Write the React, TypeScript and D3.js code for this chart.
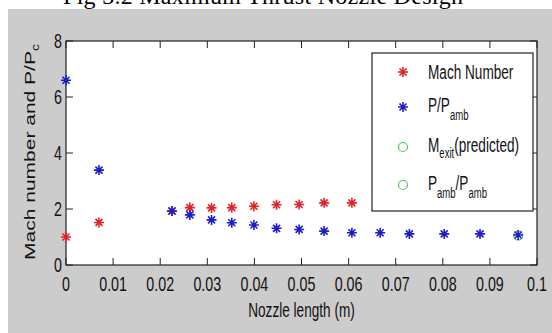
import { useEffect, useRef } from "react";
import * as d3 from "d3";

// values
const machX = [0, 0.007, 0.0225, 0.0263, 0.0309, 0.0352, 0.0399, 0.0447, 0.0495, 0.0548, 0.0607];
const machValues = [1.0, 1.52, 1.93, 2.05, 2.04, 2.05, 2.1, 2.15, 2.16, 2.22, 2.22];
const pressX = [0, 0.007, 0.0225, 0.0263, 0.0309, 0.0352, 0.0399, 0.0447, 0.0495, 0.0548, 0.0607, 0.0667, 0.0729, 0.0803, 0.0879, 0.096];
const pressValues = [6.6, 3.39, 1.93, 1.79, 1.61, 1.51, 1.43, 1.31, 1.27, 1.21, 1.15, 1.15, 1.11, 1.11, 1.11, 1.07];
const ambX = [0.096];
const ambValues = [1.05];
const xTicks = [0, 0.01, 0.02, 0.03, 0.04, 0.05, 0.06, 0.07, 0.08, 0.09, 0.1];
const yTicks = [0, 2, 4, 6, 8];

const RED = "#e3232b";
const BLUE = "#1c1cc8";
const GREEN = "#5cc25c";
const FONT = "Arial, 'Liberation Sans', sans-serif";
const SQ = 0.68; // the picture is horizontally squeezed

const starPath = (s: number) => {
  const d = s * 0.7;
  return `M${-s},0L${s},0M0,${-s}L0,${s}M${-d},${-d}L${d},${d}M${-d},${d}L${d},${-d}`;
};

const App = () => {
  const ref = useRef<SVGSVGElement>(null);

  useEffect(() => {
    if (!ref.current) return;
    const svg = d3.select(ref.current);
    svg.selectAll("*").remove();

    const left = 66, right = 537, top = 41, bottom = 265;
    const x = d3.scaleLinear().domain([0, 0.1]).range([left, right]);
    const y = d3.scaleLinear().domain([0, 8]).range([bottom, top]);

    // figure title (mostly cut off at the top)
    svg.append("text")
      .attr("x", 63).attr("y", 4)
      .attr("textLength", 400)
      .style("font-family", "'Liberation Serif', 'Times New Roman', serif")
      .style("font-size", "24px")
      .text("Fig 3.2 Maximum Thrust Nozzle Design");

    svg.append("rect")
      .attr("x", 8).attr("y", 9).attr("width", 544).attr("height", 324)
      .attr("fill", "#cccccc");

    svg.append("rect")
      .attr("x", left).attr("y", top)
      .attr("width", right - left).attr("height", bottom - top)
      .attr("fill", "#ffffff");

    const squeezed = (g: any, tx: number, ty: number, size: number, anchor: string) =>
      g.append("text")
        .attr("transform", `translate(${tx},${ty}) scale(${SQ},1)`)
        .attr("text-anchor", anchor)
        .style("font-family", FONT)
        .style("font-size", `${size}px`)
        .attr("fill", "#111");

    // ticks (inward, all four sides)
    const tl = 7;
    const ticks = svg.append("g").attr("stroke", "#222").attr("stroke-width", 1);
    xTicks.forEach((t) => {
      ticks.append("line").attr("x1", x(t)).attr("x2", x(t)).attr("y1", bottom).attr("y2", bottom - tl);
      ticks.append("line").attr("x1", x(t)).attr("x2", x(t)).attr("y1", top).attr("y2", top + tl);
      squeezed(svg, x(t), 291, 21, "middle").text(String(t));
    });
    yTicks.forEach((t) => {
      ticks.append("line").attr("x1", left).attr("x2", left + tl).attr("y1", y(t)).attr("y2", y(t));
      ticks.append("line").attr("x1", right).attr("x2", right - tl).attr("y1", y(t)).attr("y2", y(t));
      squeezed(svg, 62, y(t) + 7, 21, "end").text(String(t));
    });

    svg.append("rect")
      .attr("x", left).attr("y", top)
      .attr("width", right - left).attr("height", bottom - top)
      .attr("fill", "none").attr("stroke", "#222").attr("stroke-width", 1.2);

    // axis labels
    squeezed(svg, (left + right) / 2, 317, 20, "middle").text("Nozzle length (m)");

    const yl = svg.append("text")
      .attr("transform", `translate(35,152) scale(${SQ + 0.04},1) rotate(-90)`)
      .attr("text-anchor", "middle")
      .style("font-family", FONT)
      .style("font-size", "21px")
      .attr("fill", "#111");
    yl.append("tspan").text("Mach number and P/P");
    yl.append("tspan").attr("dy", 6).style("font-size", "14px").text("c");

    // data
    const plot = svg.append("g");
    plot.selectAll(".amb")
      .data(ambX.map((v, i) => [v, ambValues[i]]))
      .join("circle")
      .attr("cx", (d) => x(d[0])).attr("cy", (d) => y(d[1]))
      .attr("r", 4.5).attr("fill", "none").attr("stroke", GREEN).attr("stroke-width", 1.2);

    plot.selectAll(".mach")
      .data(machX.map((v, i) => [v, machValues[i]]))
      .join("path")
      .attr("transform", (d) => `translate(${x(d[0])},${y(d[1])})`)
      .attr("d", starPath(5))
      .attr("stroke", RED).attr("stroke-width", 1.6).attr("fill", "none");

    plot.selectAll(".press")
      .data(pressX.map((v, i) => [v, pressValues[i]]), (d: any) => d[0])
      .join("path")
      .attr("class", "press")
      .attr("transform", (d) => `translate(${x(d[0])},${y(d[1])})`)
      .attr("d", starPath(5))
      .attr("stroke", BLUE).attr("stroke-width", 1.6).attr("fill", "none");

    // legend
    const lg = svg.append("g");
    lg.append("rect")
      .attr("x", 372).attr("y", 53).attr("width", 161).attr("height", 158)
      .attr("fill", "#ffffff").attr("stroke", "#222").attr("stroke-width", 1.2);

    const mx = 403, tx = 428;
    lg.append("path").attr("transform", `translate(${mx},72)`).attr("d", starPath(5))
      .attr("stroke", RED).attr("stroke-width", 1.6);
    lg.append("path").attr("transform", `translate(${mx},107)`).attr("d", starPath(5))
      .attr("stroke", BLUE).attr("stroke-width", 1.6);
    lg.append("circle").attr("cx", mx).attr("cy", 147).attr("r", 4.5)
      .attr("fill", "none").attr("stroke", GREEN).attr("stroke-width", 1.2);
    lg.append("circle").attr("cx", mx).attr("cy", 185).attr("r", 4.5)
      .attr("fill", "none").attr("stroke", GREEN).attr("stroke-width", 1.2);

    squeezed(lg, tx, 79, 20, "start").text("Mach Number");

    const t2 = squeezed(lg, tx, 112, 20, "start");
    t2.append("tspan").text("P/P");
    t2.append("tspan").attr("dy", 8).style("font-size", "14px").text("amb");

    const t3 = squeezed(lg, tx, 152, 20, "start");
    t3.append("tspan").text("M");
    t3.append("tspan").attr("dy", 6).style("font-size", "14px").text("exit");
    t3.append("tspan").attr("dy", -6).text("(predicted)");

    const t4 = squeezed(lg, tx, 190, 20, "start");
    t4.append("tspan").text("P");
    t4.append("tspan").attr("dy", 8).style("font-size", "14px").text("amb");
    t4.append("tspan").attr("dy", -8).text("/P");
    t4.append("tspan").attr("dy", 8).style("font-size", "14px").text("amb");
  }, []);

  return (
    <svg
      ref={ref}
      width={552}
      height={333}
      style={{ position: "absolute", left: 0, top: 0, background: "#ffffff" }}
    />
  );
};

export default App;
